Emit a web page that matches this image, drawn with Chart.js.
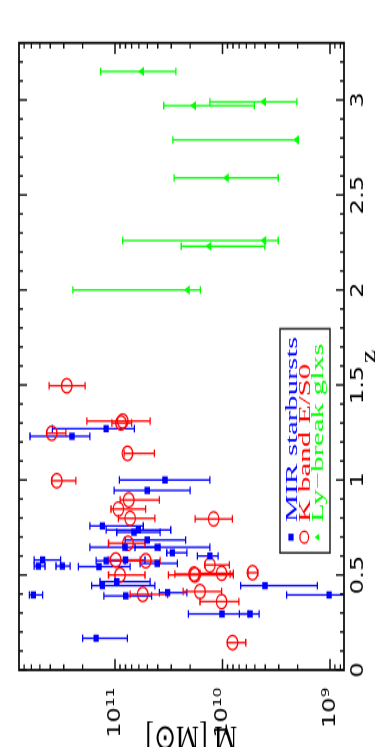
<!DOCTYPE html>
<html>
<head>
<meta charset="utf-8">
<script src="https://cdn.jsdelivr.net/npm/chart.js@4.4.1/dist/chart.umd.min.js"></script>
<style>
html, body { margin: 0; padding: 0; background: #fff; overflow: hidden; }
/* the chart is drawn landscape and turned a quarter turn, slightly stretched along z */
#wrap {
    position: absolute; left: 0; top: 0;
    width: 553px; height: 388px;
    transform-origin: 0 0;
    transform: translate(0px, 747px) rotate(-90deg) scale(1.3508, 1);
}
canvas { display: block; }
</style>
</head>
<body>
<div id="wrap"><canvas id="mass-chart" width="553" height="388"></canvas></div>
<script>
// MIR starbursts
const mirZ    = [1.27, 1.23, 1.00, 0.945, 0.758, 0.737, 0.725, 0.684, 0.646, 0.646, 0.617, 0.60, 0.579, 0.575, 0.579, 0.561, 0.547, 0.547, 0.544, 0.465, 0.444, 0.444, 0.407, 0.395, 0.39, 0.395, 0.295, 0.295, 0.167];
const mirMass = [1.21e11, 2.51e11, 3.43e10, 5.01e10, 1.31e11, 6.07e10, 6.66e10, 5.01e10, 8.07e10, 4.05e10, 2.93e10, 1.31e10, 4.71e11, 1.21e11, 7.98e10, 4.05e10, 5.16e11, 3.09e11, 1.41e11, 9.64e10, 1.31e11, 4.03e9, 3.24e10, 5.75e11, 7.94e10, 1.02e9, 1.01e10, 5.55e9, 1.50e11];
const mirHigh = [3.83e11, 6.18e11, 9.12e10, 1.02e11, 1.71e11, 1.21e11, 9.64e10, 8.07e10, 1.71e11, 6.52e10, 3.30e10, 1.71e10, 5.66e11, 1.50e11, 1.11e11, 5.85e10, 5.66e11, 3.54e11, 2.19e11, 1.38e11, 1.65e11, 6.78e9, 3.87e10, 6.26e11, 1.27e11, 2.53e9, 2.08e10, 6.98e9, 2.00e11];
const mirLow  = [6.60e10, 1.71e11, 1.31e10, 2.00e10, 5.46e10, 3.03e10, 3.81e10, 2.20e10, 3.81e10, 1.31e10, 2.15e10, 1.10e10, 3.20e11, 8.07e10, 5.26e10, 2.63e10, 4.48e11, 2.62e11, 7.24e10, 4.72e10, 4.25e10, 1.31e9, 2.15e10, 4.71e11, 4.56e10, 4.0e8, 5.75e9, 4.57e9, 7.69e10];

// K band E/S0
const kbandZ    = [1.496, 1.31, 1.30, 1.246, 1.14, 0.996, 0.895, 0.847, 0.798, 0.795, 0.667, 0.579, 0.575, 0.50, 0.50, 0.505, 0.509, 0.553, 0.512, 0.413, 0.36, 0.398, 0.144];
const kbandMass = [2.81e11, 8.47e10, 8.79e10, 3.88e11, 7.66e10, 3.48e11, 7.45e10, 9.31e10, 7.24e10, 1.21e10, 7.57e10, 9.85e10, 5.18e10, 8.98e10, 1.80e10, 1.84e10, 1.02e10, 1.31e10, 5.26e9, 1.62e10, 1.02e10, 5.52e10, 8.07e9];
const kbandHigh = [4.11e11, 1.83e11, 1.07e11, 4.30e11, 8.24e10, 3.88e11, 8.98e10, 1.09e11, 9.31e10, 1.80e10, 1.15e11, 1.16e11, 8.07e10, 1.15e11, 3.19e10, 2.77e10, 1.62e10, 1.46e10, 5.79e9, 2.32e10, 1.62e10, 7.24e10, 9.02e9];
const kbandLow  = [1.90e11, 4.72e10, 7.00e10, 2.86e11, 4.30e10, 2.31e11, 3.87e10, 5.18e10, 4.25e10, 8.11e9, 5.26e10, 5.85e10, 3.81e10, 5.26e10, 7.94e9, 8.51e9, 7.94e9, 8.65e9, 4.68e9, 1.02e10, 7.03e9, 3.24e10, 6.08e9];

// Lyman-break galaxies
const lybZ    = [3.15, 2.99, 2.97, 2.79, 2.59, 2.26, 2.23, 2.00];
const lybMass = [5.62e10, 4.11e9, 1.84e10, 2.03e9, 9.14e9, 4.08e9, 1.33e10, 2.11e10];
const lybHigh = [1.36e11, 1.31e10, 3.52e10, 2.90e10, 2.82e10, 8.51e10, 2.42e10, 2.47e11];
const lybLow  = [2.72e10, 2.03e9, 5.06e9, 2.00e9, 3.03e9, 3.03e9, 4.03e9, 1.61e10];

// axes
const zRange = [0, 3.3];
const massRange = [7.41e8, 7.82e11];
const zTickValues = [0, 0.5, 1, 1.5, 2, 2.5, 3];
const zTickLabels = ['0', '0.5', '1', '1.5', '2', '2.5', '3'];
const massTickValues = [1e9, 1e10, 1e11];
const massTickLabels = ['10\u2079', '10\u00b9\u2070', '10\u00b9\u00b9'];

const seriesLabels = ['MIR starbursts', 'K band E/S0', 'Ly\u2212break glxs'];
const seriesColors = ['#0000ff', '#ff0000', '#00ff00'];

function toPoints(zs, ms, his, los) {
    return zs.map((z, i) => ({ x: z, y: ms[i], hi: his[i], lo: los[i] }));
}

// minor tick positions for the frame
const zMinor = [];
for (let i = 0; i <= 33; i++) {
    zMinor.push({ v: i / 10, major: i % 5 === 0 });
}
const massMinor = [];
for (let d = 8; d <= 11; d++) {
    for (let m = 1; m <= 9; m++) {
        const v = m * Math.pow(10, d);
        if (v >= massRange[0] && v <= massRange[1]) {
            massMinor.push({ v, major: m === 1 });
        }
    }
}

// vertical error bars with small caps
const errorBars = {
    id: 'errorBars',
    beforeDatasetsDraw(chart) {
        const { ctx, chartArea: a, scales: { x, y } } = chart;
        const cap = 2.8;
        ctx.save();
        ctx.beginPath();
        ctx.rect(a.left, a.top, a.right - a.left, a.bottom - a.top);
        ctx.clip();
        ctx.lineWidth = 1.3;
        chart.data.datasets.forEach((ds) => {
            ctx.strokeStyle = ds.borderColor;
            ds.data.forEach((p) => {
                const px = x.getPixelForValue(p.x);
                const y1 = y.getPixelForValue(p.hi);
                const y2 = y.getPixelForValue(p.lo);
                ctx.beginPath();
                ctx.moveTo(px, y1);
                ctx.lineTo(px, y2);
                ctx.moveTo(px - cap, y1);
                ctx.lineTo(px + cap, y1);
                ctx.moveTo(px - cap, y2);
                ctx.lineTo(px + cap, y2);
                ctx.stroke();
            });
        });
        ctx.restore();
    },
};

// box frame with inward ticks on all four sides
const frameTicks = {
    id: 'frameTicks',
    afterDraw(chart) {
        const { ctx, chartArea: a, scales: { x, y } } = chart;
        ctx.save();
        ctx.strokeStyle = '#111';
        ctx.lineWidth = 1.4;
        ctx.beginPath();
        zMinor.forEach((t) => {
            const px = x.getPixelForValue(t.v);
            const len = t.major ? 8 : 4;
            ctx.moveTo(px, a.top);
            ctx.lineTo(px, a.top + len);
            ctx.moveTo(px, a.bottom);
            ctx.lineTo(px, a.bottom - len);
        });
        massMinor.forEach((t) => {
            const py = y.getPixelForValue(t.v);
            const len = t.major ? 8.2 : 4.2;
            ctx.moveTo(a.left, py);
            ctx.lineTo(a.left + len, py);
            ctx.moveTo(a.right, py);
            ctx.lineTo(a.right - len, py);
        });
        ctx.stroke();
        ctx.lineWidth = 1.8;
        ctx.strokeRect(a.left, a.top, a.right - a.left, a.bottom - a.top);
        ctx.restore();
    },
};

// framed legend sitting inside the plot
const boxLegend = {
    id: 'boxLegend',
    afterDraw(chart) {
        const { ctx, chartArea: a } = chart;
        const left = a.left + 86.7;
        const right = a.left + 252.6;
        const top = a.top + 261;
        const bottom = a.top + 311;
        ctx.save();
        ctx.fillStyle = '#fff';
        ctx.fillRect(left, top, right - left, bottom - top);
        ctx.strokeStyle = '#222';
        ctx.lineWidth = 1.5;
        ctx.strokeRect(left, top, right - left, bottom - top);
        ctx.font = '17px "Liberation Serif", serif';
        ctx.textBaseline = 'alphabetic';
        chart.data.datasets.forEach((ds, i) => {
            const mv = top + 11 + i * 13.3;
            const mx = left + 11.6;
            ctx.fillStyle = ds.borderColor;
            ctx.strokeStyle = ds.borderColor;
            ctx.lineWidth = 1.3;
            if (ds.pointStyle === 'rect') {
                ctx.fillRect(mx - 2.6, mv - 2.6, 5.2, 5.2);
            } else if (ds.pointStyle === 'circle') {
                ctx.beginPath();
                ctx.arc(mx, mv, 4.4, 0, Math.PI * 2);
                ctx.stroke();
            } else {
                ctx.beginPath();
                ctx.moveTo(mx, mv - 3);
                ctx.lineTo(mx + 2.6, mv + 1.6);
                ctx.lineTo(mx - 2.6, mv + 1.6);
                ctx.closePath();
                ctx.fill();
            }
            ctx.save();
            ctx.translate(left + 22.8, top + 17 + i * 13);
            ctx.scale(1.35, 1);
            ctx.fillText(ds.label, 0, 0);
            ctx.restore();
        });
        ctx.restore();
    },
};

const ctx = document.getElementById('mass-chart').getContext('2d');
new Chart(ctx, {
    type: 'scatter',
    data: {
        datasets: [
            {
                label: seriesLabels[0],
                data: toPoints(mirZ, mirMass, mirHigh, mirLow),
                pointStyle: 'rect',
                pointRadius: 3.8,
                borderWidth: 0,
                borderColor: seriesColors[0],
                backgroundColor: seriesColors[0],
            },
            {
                label: seriesLabels[1],
                data: toPoints(kbandZ, kbandMass, kbandHigh, kbandLow),
                pointStyle: 'circle',
                pointRadius: 5.3,
                borderWidth: 1.3,
                borderColor: seriesColors[1],
                backgroundColor: 'rgba(0,0,0,0)',
            },
            {
                label: seriesLabels[2],
                data: toPoints(lybZ, lybMass, lybHigh, lybLow),
                pointStyle: 'triangle',
                pointRadius: 4,
                borderWidth: 0,
                borderColor: seriesColors[2],
                backgroundColor: seriesColors[2],
            },
        ],
    },
    options: {
        responsive: false,
        animation: false,
        layout: { padding: { top: 19, right: 31.8, left: 0, bottom: 0 } },
        plugins: {
            legend: { display: false },
            tooltip: { enabled: false },
        },
        scales: {
            x: {
                type: 'linear',
                position: 'bottom',
                min: zRange[0],
                max: zRange[1],
                grid: { display: false, drawTicks: false },
                border: { display: false },
                afterBuildTicks: (scale) => {
                    scale.ticks = zTickValues.map((v) => ({ value: v }));
                },
                afterFit: (scale) => {
                    scale.height = 44;
                    scale.paddingLeft = 0;
                    scale.paddingRight = 0;
                },
                ticks: {
                    autoSkip: false,
                    maxRotation: 0,
                    padding: 4,
                    color: '#000',
                    font: { family: '"DejaVu Sans", sans-serif', size: 18 },
                    callback: (value, index) => zTickLabels[index],
                },
                title: {
                    display: true,
                    text: 'z',
                    color: '#000',
                    font: { family: '"Liberation Serif", serif', size: 22 },
                    padding: { top: 0, bottom: 6 },
                },
            },
            y: {
                type: 'logarithmic',
                position: 'left',
                min: massRange[0],
                max: massRange[1],
                grid: { display: false, drawTicks: false },
                border: { display: false },
                afterBuildTicks: (scale) => {
                    scale.ticks = massTickValues.map((v) => ({ value: v }));
                },
                afterFit: (scale) => {
                    scale.width = 57;
                    scale.paddingTop = 0;
                    scale.paddingBottom = 0;
                },
                ticks: {
                    autoSkip: false,
                    padding: 13,
                    color: '#000',
                    font: { family: '"DejaVu Sans", sans-serif', size: 18 },
                    callback: (value, index) => massTickLabels[index],
                },
                title: {
                    display: true,
                    text: 'M [M\u2299]   ',
                    color: '#000',
                    font: { family: '"Liberation Serif", serif', size: 26 },
                    padding: { top: -7, bottom: 0 },
                },
            },
        },
    },
    plugins: [errorBars, frameTicks, boxLegend],
});
</script>
</body>
</html>
